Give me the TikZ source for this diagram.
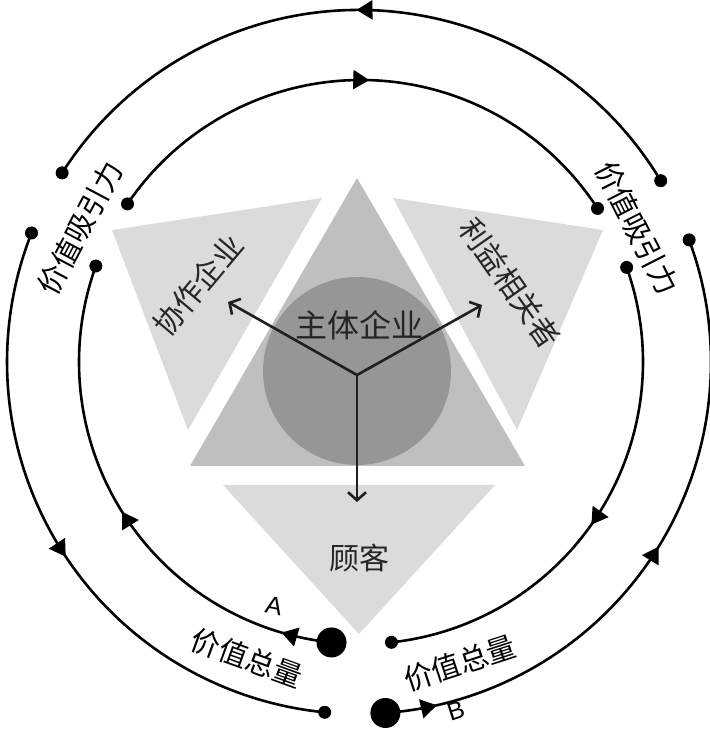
\documentclass[tikz,border=0pt]{standalone}
\usepackage{fontspec}
\newfontfamily\cjk{Noto Sans CJK SC}
\newfontfamily\latinsans{Liberation Sans}
\usetikzlibrary{arrows.meta,decorations.markings,calc}
\definecolor{shapelight}{gray}{0.86}
\definecolor{shapemid}{gray}{0.75}
\definecolor{shapedark}{gray}{0.59}
\definecolor{inktext}{gray}{0.15}
\begin{document}
\begin{tikzpicture}[x=1pt,y=1pt,
  flow/.style={line width=2.6pt, black},
  onearrow/.style={postaction={decorate}, decoration={markings,
     mark=at position #1 with {\arrow{Triangle[length=16pt,width=19pt]}}}},
  twoarrows/.style 2 args={postaction={decorate}, decoration={markings,
     mark=at position #1 with {\arrow{Triangle[length=16pt,width=19pt]}},
     mark=at position #2 with {\arrow{Triangle[length=16pt,width=19pt]}}}},
  sdot/.style={circle, fill=black, inner sep=0pt, minimum size=13pt},
  bdot/.style={circle, fill=black, inner sep=0pt, minimum size=30pt},
  spoke/.style={line width=2.6pt, black!88, -{Straight Barb[length=8pt,width=18pt]}},
  inlabel/.style={font=\cjk\fontsize{30}{30}\selectfont, text=inktext, inner sep=0pt},
  outlabel/.style={font=\cjk\fontsize{29}{29}\selectfont, text=black, inner sep=0pt},
  letter/.style={font=\latinsans\fontsize{25}{25}\selectfont, text=black, inner sep=0pt}
]
\useasboundingbox (0,0) rectangle (709,730);

% centres of the two rings
\coordinate (O) at (359,368);
\coordinate (I) at (361,368);

% ---- central shapes ----
\fill[shapelight] (112,500) -- (322,532) -- (188,300) -- cycle;
\fill[shapelight] (393,532) -- (603,500) -- (517,300) -- cycle;
\fill[shapelight] (223,245) -- (495,245) -- (359,96) -- cycle;
\fill[shapemid] (357,552) -- (190,264) -- (525,264) -- cycle;
\fill[shapedark] (357,359) circle[radius=94];

% ---- ring end points ----
\coordinate (otl) at ($(O)+(147.5:352)$);
\coordinate (otr) at ($(O)+(31:352)$);
\coordinate (olt) at ($(O)+(158.5:352)$);
\coordinate (olb) at ($(O)+(264.4:352)$);
\coordinate (ort) at ($(O)+(20.3:352)$);
\coordinate (ob)  at ($(O)+(274.3:352)$);
\coordinate (itl) at ($(I)+(145.9:282)$);
\coordinate (itr) at ($(I)+(33:282)$);
\coordinate (ilt) at ($(I)+(160.1:282)$);
\coordinate (ia)  at ($(I)+(264:282)$);
\coordinate (irt) at ($(I)+(19.6:282)$);
\coordinate (irb) at ($(I)+(276.2:282)$);

% ---- outer ring (anticlockwise) ----
\draw[flow, onearrow=0.51] (otr) arc[start angle=31, end angle=147.5, radius=352];
\draw[flow, onearrow=0.52] (olt) arc[start angle=158.5, end angle=264.4, radius=352];
\draw[flow, twoarrows={0.08}{0.51}] (ob) arc[start angle=274.3, end angle=380.3, radius=352];

% ---- inner ring (clockwise) ----
\draw[flow, twoarrows={0.1}{0.5}] (ia) arc[start angle=264, end angle=160.1, radius=282];
\draw[flow, onearrow=0.51] (itl) arc[start angle=145.9, end angle=33, radius=282];
\draw[flow, onearrow=0.53] (irt) arc[start angle=19.6, end angle=-83.8, radius=282];

% ---- dots ----
\node[sdot] (dotl) at (otl) {};
\node[sdot] (dotr) at (otr) {};
\node[sdot] (dolt) at (olt) {};
\node[sdot] (dolb) at (olb) {};
\node[sdot] (dort) at (ort) {};
\node[bdot] (dB) at (ob) {};
\node[sdot] (ditl) at (itl) {};
\node[sdot] (ditr) at (itr) {};
\node[sdot] (dilt) at (ilt) {};
\node[bdot] (dA) at (ia) {};
\node[sdot] (dirt) at (irt) {};
\node[sdot] (dirb) at (irb) {};

% ---- spokes ----
\coordinate (hub) at (357,355);
\coordinate (toL) at (228,428);
\coordinate (toR) at (482,425);
\coordinate (toD) at (357,228);
\draw[spoke] (hub) -- (toL);
\draw[spoke] (hub) -- (toR);
\draw[spoke] (hub) -- (toD);

% ---- labels ----
\node[inlabel, font=\cjk\fontsize{32}{32}\selectfont] (main) at (359,405) {主体企业};
\node[inlabel, rotate=50] (coop) at (198,445) {协作企业};
\node[inlabel, rotate=-55] (stake) at (510,447) {利益相关者};
\node[inlabel] (cust) at (359,172) {顾客};
\node[outlabel, rotate=62] (attrL) at (80,502) {价值吸引力};
\node[outlabel, rotate=-63] (attrR) at (637,502) {价值吸引力};
\node[outlabel, rotate=-20] (totL) at (247,72) {价值总量};
\node[outlabel, rotate=18] (totR) at (460,67) {价值总量};
\node[letter, rotate=-12] (lA) at (274,124) {A};
\node[letter, rotate=18] (lB) at (456,19) {B};
\end{tikzpicture}
\end{document}
